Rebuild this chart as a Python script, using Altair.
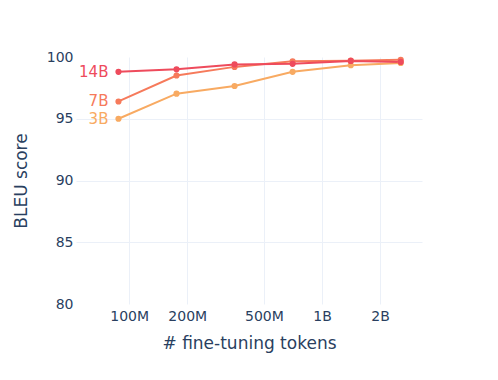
import altair as alt
import pandas as pd

tokens = [8.8e7, 1.76e8, 3.52e8, 7.04e8, 1.41e9, 2.56e9]
bleu_14b = [98.8, 99.0, 99.4, 99.45, 99.68, 99.6]
bleu_7b = [96.4, 98.5, 99.2, 99.65, 99.7, 99.78]
bleu_3b = [95.0, 97.03, 97.65, 98.8, 99.33, 99.52]
series = ["3B", "7B", "14B"]
colors = ["#F8AA62", "#F67A5B", "#EE4B5C"]
tick_vals = [1e8, 2e8, 5e8, 1e9, 2e9]
tick_text = ["100M", "200M", "500M", "1B", "2B"]

rows = []
for name, vals in zip(series, [bleu_3b, bleu_7b, bleu_14b]):
    for i, (t, v) in enumerate(zip(tokens, vals)):
        rows.append({"model": name, "tokens": t, "bleu": v, "idx": i})
df = pd.DataFrame(rows)

label_expr = " : ".join(
    f"datum.value == {v} ? '{t}'" for v, t in zip(tick_vals, tick_text)
) + " : ''"

FONT = "DejaVu Sans"
TXT = "#2a3f5f"
GRID = "#EBF0F8"

x = alt.X(
    "tokens:Q",
    scale=alt.Scale(type="log", domain=[5.3e7, 3.3e9], nice=False),
    axis=alt.Axis(
        values=tick_vals, labelExpr=label_expr, title="# fine-tuning tokens",
        grid=True, gridColor=GRID, domain=False, ticks=False,
        labelFontSize=14, labelColor=TXT, labelFont=FONT, labelPadding=5,
        titleFontSize=17, titleColor=TXT, titleFont=FONT, titleFontWeight="normal",
        titlePadding=12, labelFlush=False,
    ),
)
y = alt.Y(
    "bleu:Q",
    scale=alt.Scale(domain=[80, 100], nice=False, zero=False),
    axis=alt.Axis(
        values=[80, 85, 90, 95, 100], title="BLEU score",
        grid=True,
        gridColor={"condition": {"test": "datum.value == 80 || datum.value == 100", "value": "transparent"}, "value": GRID},
        domain=False, ticks=False,
        labelFontSize=14, labelColor=TXT, labelFont=FONT, labelPadding=3,
        titleFontSize=17, titleColor=TXT, titleFont=FONT, titleFontWeight="normal",
        titlePadding=16, labelFlush=False,
    ),
)
color = alt.Color("model:N", scale=alt.Scale(domain=series, range=colors), legend=None)

base = alt.Chart(df)
lines = base.mark_line(strokeWidth=2, clip=False).encode(x=x, y=y, color=color, detail="model:N", order="idx:Q")
points = base.mark_point(filled=True, size=38, opacity=1, clip=False).encode(x=x, y=y, color=color)
labels = base.transform_filter("datum.idx == 0").mark_text(
    align="right", baseline="middle", dx=-10, fontSize=15, font=FONT
).encode(x=x, y=y, color=color, text="model:N")

chart = alt.layer(lines, points, labels).properties(
    width=346, height=247,
    autosize=alt.AutoSizeParams(type="none"),
    padding={"left": 68, "top": 49, "right": 60, "bottom": 60},
).configure_view(stroke=None)

chart.save("out.html", embed_options={"renderer": "svg", "actions": False})
